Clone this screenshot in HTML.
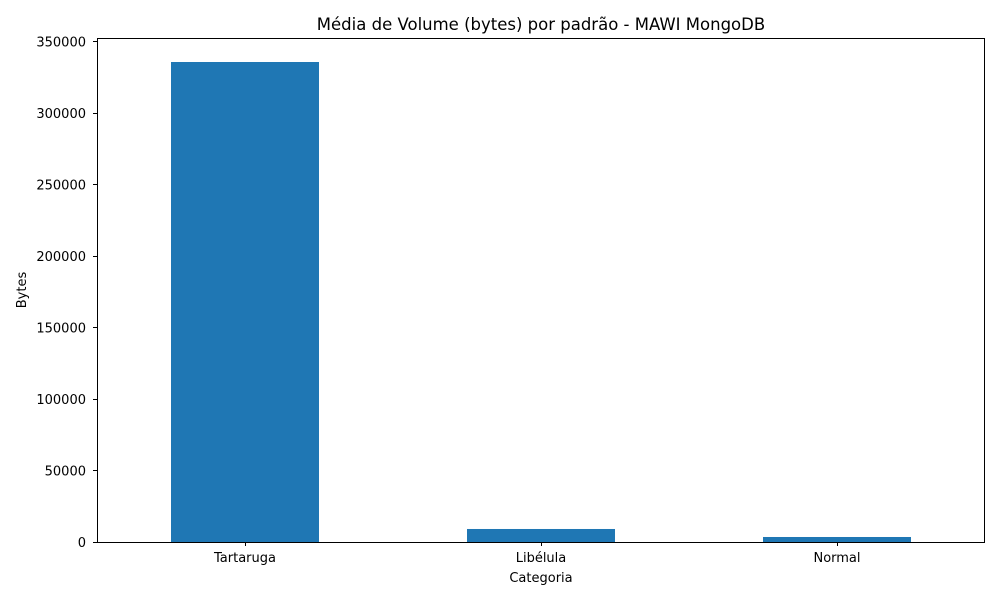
<!DOCTYPE html>
<html><head><meta charset="utf-8"><style>body{margin:0;background:#fff}svg{display:block;font-family:"DejaVu Sans","Liberation Sans",sans-serif}</style></head>
<body>
<svg id="chart" width="1000" height="600"></svg>
<script>
const categories = ["Tartaruga", "Libélula", "Normal"];
const values = [335600, 9100, 3500];
const yTicks = [0, 50000, 100000, 150000, 200000, 250000, 300000, 350000];
const NS = "http://www.w3.org/2000/svg";
const svg = document.getElementById("chart");
const L = 97, R = 985, T = 38, B = 542;
const yMax = Math.max(...values) * 1.05;
const y = v => B - v / yMax * (B - T);
const step = (R - L) / categories.length;
const x = i => L + step * (i + 0.5);
function mk(tag, attrs, text) {
  const e = document.createElementNS(NS, tag);
  for (const k in attrs) e.setAttribute(k, attrs[k]);
  if (text !== undefined) e.textContent = text;
  svg.appendChild(e);
  return e;
}
values.forEach((v, i) => {
  const r = mk("rect", {x: x(i) - step / 4, y: y(v), width: step / 2, height: B - y(v), fill: "#1f77b4"});
  
  
});
yTicks.forEach(t => {
  const yy = Math.round(y(t)) + 0.5;
  const l = mk("line", {x1: L - 4, x2: L, y1: yy, y2: yy, stroke: "#000", "stroke-width": 1});
  
  
  const tx = mk("text", {x: L - 11, y: y(t) + 5, "text-anchor": "end", "font-size": 13}, String(t));
  
  
});
categories.forEach((c, i) => {
  const xx = Math.round(x(i)) + 0.5;
  const l = mk("line", {x1: xx, x2: xx, y1: B, y2: B + 4, stroke: "#000", "stroke-width": 1});
  
  
  const tx = mk("text", {x: x(i), y: B + 20, "text-anchor": "middle", "font-size": 13}, c);
  
  
});
const frame = mk("rect", {x: L + 0.5, y: T + 0.5, width: R - L - 1, height: B - T, fill: "none", stroke: "#000", "stroke-width": 1});


const title = mk("text", {x: (L + R) / 2, y: 30, "text-anchor": "middle", "font-size": 16.5}, "Média de Volume (bytes) por padrão - MAWI MongoDB");


const xt = mk("text", {x: (L + R) / 2, y: 582, "text-anchor": "middle", "font-size": 13}, "Categoria");


const yt = mk("text", {x: 26, y: (T + B) / 2, "text-anchor": "middle", "font-size": 13, transform: "rotate(-90 26 " + (T + B) / 2 + ")"}, "Bytes");


</script>
</body></html>
